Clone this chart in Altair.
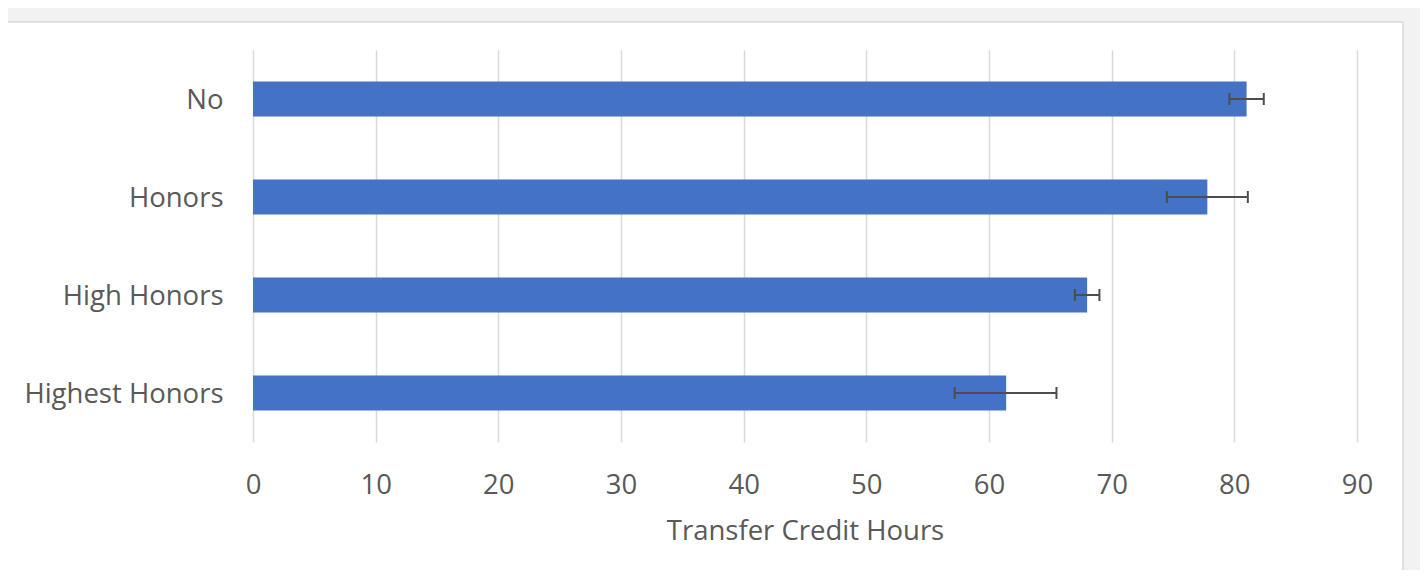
import altair as alt
import pandas as pd

categories = ["No", "Honors", "High Honors", "Highest Honors"]
means = [81.0, 77.8, 68.0, 61.4]
err_low = [79.6, 74.5, 67.0, 57.2]
err_high = [82.4, 81.1, 69.0, 65.5]
x_ticks = [0, 10, 20, 30, 40, 50, 60, 70, 80, 90]

df = pd.DataFrame({"cat": categories, "mean": means, "lo": err_low, "hi": err_high})

W, H = 1104, 392
FONT = "Open Sans"
FS = 27.5
TXT = "#595959"
GRAY = "#f2f2f2"
EDGE = "#d9d9d9"

y_enc = alt.Y("cat:N", sort=categories, title=None,
              scale=alt.Scale(paddingInner=0, paddingOuter=0),
              axis=alt.Axis(domain=False, ticks=False, labelFontSize=FS, labelFont=FONT,
                            labelColor=TXT, labelPadding=30, labelOffset=1.5, labelLimit=400,
                            grid=False))
x_scale = alt.Scale(domain=[0, 90], nice=False, zero=True)

one = alt.Chart(pd.DataFrame({"k": [0]}))

top_strip = one.mark_rect(fill=GRAY).encode(
    x=alt.value(-250), x2=alt.value(1170), y=alt.value(-45), y2=alt.value(-28))
right_strip = one.mark_rect(fill=GRAY).encode(
    x=alt.value(1150), x2=alt.value(1170), y=alt.value(-45), y2=alt.value(560))
top_edge = one.mark_rule(color=EDGE, strokeWidth=1.5).encode(
    x=alt.value(-250), x2=alt.value(1150), y=alt.value(-28))
right_edge = one.mark_rule(color=EDGE, strokeWidth=1.5).encode(
    x=alt.value(1150), y=alt.value(-28), y2=alt.value(560))

base = alt.Chart(df)

bars = base.mark_bar(size=35, color="#4472C4").encode(
    x=alt.X("mean:Q", scale=x_scale, title="Transfer Credit Hours",
            axis=alt.Axis(values=x_ticks, domain=False, ticks=False, grid=True,
                          gridColor=EDGE, gridWidth=1.5, labelFlush=False,
                          labelFontSize=FS, labelFont=FONT, labelColor=TXT, labelPadding=29,
                          titleFontSize=FS, titleFont=FONT, titleColor=TXT,
                          titleFontWeight="normal", titlePadding=19)),
    y=y_enc,
)

rule = base.mark_rule(color="#4d4d4d", strokeWidth=2).encode(
    x=alt.X("lo:Q", scale=x_scale), x2="hi:Q", y=alt.Y("cat:N", sort=categories))
cap_lo = base.mark_tick(color="#4d4d4d", size=12, thickness=2, opacity=1).encode(
    x=alt.X("lo:Q", scale=x_scale), y=alt.Y("cat:N", sort=categories))
cap_hi = base.mark_tick(color="#4d4d4d", size=12, thickness=2, opacity=1).encode(
    x=alt.X("hi:Q", scale=x_scale), y=alt.Y("cat:N", sort=categories))

chart = alt.layer(bars, rule, cap_lo, cap_hi, top_strip, right_strip, top_edge, right_edge).properties(
    width=W, height=H,
    autosize=alt.AutoSizeParams(type="none"),
    padding={"left": 245, "top": 42, "right": 63, "bottom": 128},
    background="white",
).configure_view(stroke=None)

chart.save("out.html", embed_options={"renderer": "svg", "actions": False})
